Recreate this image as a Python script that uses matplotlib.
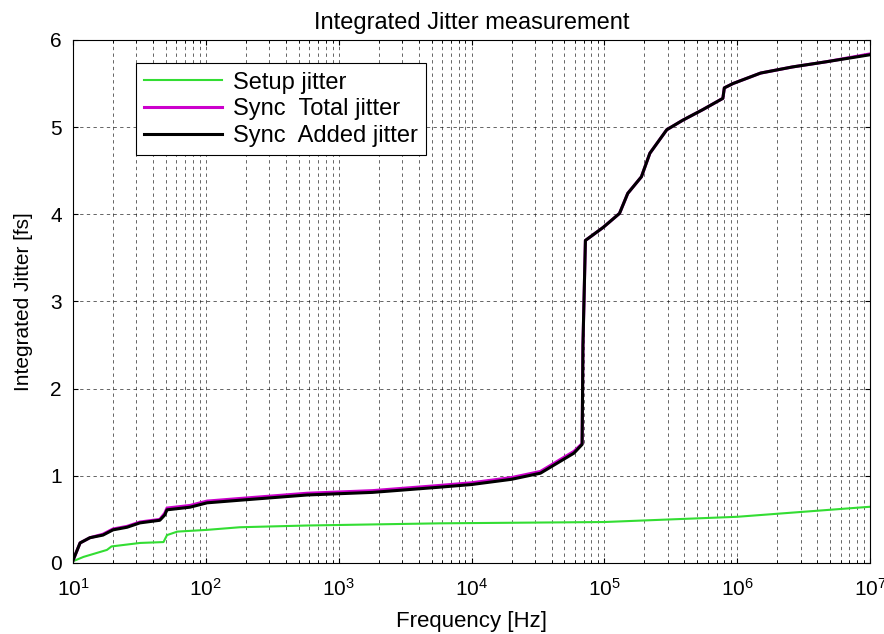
import numpy as np
import matplotlib.pyplot as plt

plt.rcParams['font.family'] = ['Liberation Sans', 'DejaVu Sans']
plt.rcParams['mathtext.default'] = 'regular'

# Setup jitter (green)
setup_freq = [10, 12, 18, 19.5, 32, 48, 51, 61, 102, 180, 577, 5.8e3, 1e5, 1e6, 3e6, 1e7]
setup_jit = [0.02, 0.07, 0.15, 0.19, 0.23, 0.24, 0.32, 0.36, 0.38, 0.41, 0.43, 0.455, 0.47, 0.53, 0.585, 0.645]

# Sync Added jitter (black)
added_freq = [10, 11.3, 13.4, 16.8, 20, 25.5, 31.9, 45, 49, 51, 76, 102, 180, 577, 1.8e3, 5.8e3,
              1e4, 2e4, 3.3e4, 5.9e4, 6.8e4, 6.9e4, 7.2e4, 9.8e4, 1.3e5, 1.5e5, 1.9e5, 2.2e5, 2.95e5,
              3.9e5, 5.5e5, 7.8e5, 8e5, 9.3e5, 1.5e6, 2.6e6, 4.7e6, 1e7]
added_jit = [0.03, 0.23, 0.29, 0.32, 0.38, 0.41, 0.46, 0.49, 0.55, 0.61, 0.64, 0.69, 0.72, 0.78, 0.81, 0.87,
             0.9, 0.96, 1.03, 1.26, 1.36, 2.5, 3.70, 3.85, 4.01, 4.24, 4.43, 4.70, 4.97,
             5.08, 5.20, 5.33, 5.45, 5.50, 5.62, 5.69, 5.75, 5.83]

# Sync Total jitter (magenta), nearly identical to added
total_freq = added_freq
total_jit = [0.03, 0.23, 0.29, 0.33, 0.39, 0.42, 0.47, 0.50, 0.57, 0.63, 0.66, 0.71, 0.74, 0.80, 0.83, 0.89,
             0.92, 0.98, 1.05, 1.28, 1.37, 2.5, 3.70, 3.85, 4.01, 4.24, 4.43, 4.70, 4.97,
             5.08, 5.20, 5.33, 5.45, 5.50, 5.62, 5.69, 5.75, 5.84]

fig = plt.figure(figsize=(8.84, 6.34), dpi=100)
ax = fig.add_axes([0.0826, 0.112, 0.9016, 0.825])

ax.plot(setup_freq, setup_jit, color='#33dd33', linewidth=1.5, label='Setup jitter')
ax.plot(total_freq, total_jit, color='#cc00cc', linewidth=2.2, label='Sync  Total jitter')
ax.plot(added_freq, added_jit, color='black', linewidth=2.2, label='Sync  Added jitter')

ax.set_xscale('log')
ax.set_xlim(10, 1e7)
ax.set_ylim(0, 6)
ax.set_yticks(range(7))
ax.grid(True, which='both', linestyle=(0, (4, 4)), color='black', linewidth=0.6, alpha=0.7)
ax.tick_params(which='both', direction='in', labelsize=15, top=True, right=True)
ax.tick_params(axis='x', pad=11)
ax.tick_params(axis='y', pad=8)

ax.set_title('Integrated Jitter measurement', fontsize=17, pad=8)
ax.set_xlabel('Frequency [Hz]', fontsize=16, labelpad=8)
ax.set_ylabel('Integrated Jitter [fs]', fontsize=15, labelpad=12)

leg = ax.legend(loc='upper left', bbox_to_anchor=(0.079, 0.955), fontsize=17,
                handlelength=3.3, fancybox=False, edgecolor='black', framealpha=1,
                borderpad=0.35, labelspacing=0.2, handletextpad=0.45, borderaxespad=0)
leg.get_frame().set_linewidth(0.8)

fig.savefig('out.png', dpi=100)
